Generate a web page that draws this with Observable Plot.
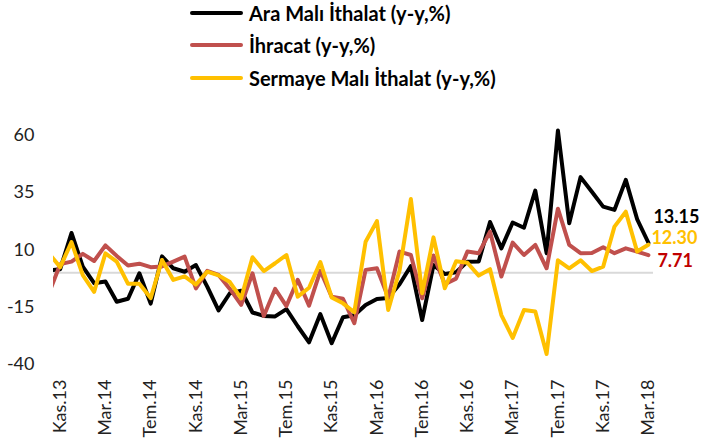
<!DOCTYPE html>
<html><head><meta charset="utf-8">
<script src="https://cdn.jsdelivr.net/npm/d3@7"></script>
<script src="https://cdn.jsdelivr.net/npm/@observablehq/plot@0.6"></script>
<style>
body{margin:0;background:#fff;font-family:Lato,sans-serif;}
#legend{position:relative;height:100px;width:705px;}
.item{position:absolute;left:190px;height:22px;display:flex;align-items:center;font-weight:bold;font-size:20px;color:#000;white-space:nowrap;}
.sw{width:53px;height:4px;margin-right:6px;border-radius:2px;}
#chart svg{display:block;}
</style></head><body>
<div id="legend"></div>
<div id="chart"></div>
<script>
const months = ["Eki.13","Kas.13","Ara.13",
"Oca.14","Şub.14","Mar.14","Nis.14","May.14","Haz.14","Tem.14","Ağu.14","Eyl.14","Eki.14","Kas.14","Ara.14",
"Oca.15","Şub.15","Mar.15","Nis.15","May.15","Haz.15","Tem.15","Ağu.15","Eyl.15","Eki.15","Kas.15","Ara.15",
"Oca.16","Şub.16","Mar.16","Nis.16","May.16","Haz.16","Tem.16","Ağu.16","Eyl.16","Eki.16","Kas.16","Ara.16",
"Oca.17","Şub.17","Mar.17","Nis.17","May.17","Haz.17","Tem.17","Ağu.17","Eyl.17","Eki.17","Kas.17","Ara.17",
"Oca.18","Şub.18","Mar.18"];
const tickMonths = ["Kas.13","Mar.14","Tem.14","Kas.14","Mar.15","Tem.15","Kas.15","Mar.16","Tem.16","Kas.16","Mar.17","Tem.17","Kas.17","Mar.18"];
const yTicks = [-40, -15, 10, 35, 60];
const seriesNames = ["Ara Malı İthalat (y-y,%)", "İhracat (y-y,%)", "Sermaye Malı İthalat (y-y,%)"];
const seriesColors = ["#000000", "#C0504D", "#FFC000"];
const labelColors = ["#000000", "#C00000", "#FFC000"];
const araMali = [1.0,1.6,17.4,2.7,-4.5,-3.8,-12.6,-11.3,-0.2,-13.4,7.2,2,0.5,3.4,-6,-16.4,-8.9,-7.8,-17.3,-18.8,-19,-15.8,-23.3,-30.3,-18,-30.7,-19.4,-18.5,-14,-11.4,-11,-5,3,-20.6,3.4,-0.5,0.3,4.9,5,22.2,10.7,22,19.7,35.9,8.6,62.1,21.7,41.8,35.4,28.9,27.5,40.6,23.5,13.15];
const ihracat = [-9,3.8,4.9,8.3,5.2,12,7.4,3.2,4,2.5,2.8,4.9,7.1,-6.8,0.9,-0.9,-7,-14,-0.2,-18.8,-7,-14.5,-3,-14.3,0.9,-10.4,-11.3,-22,1.3,2,-10.8,9.3,7.8,-11.1,7.6,-4.9,-2.5,9.3,8.6,18,-1.6,13.2,7.8,12.2,2,28,12.2,8.6,8.7,11.2,8.6,10.7,9.3,7.71];
const sermaye = [8.5,2.5,13.4,-1,-8.3,8.5,4.9,-4.8,-4.8,-11,5.6,-3.1,-1.5,-5.1,0.5,-1.1,-4,-11.1,6.8,0.8,4.2,7.8,-10.4,-6.5,4.7,-10.7,-13.3,-17.2,13.6,22.6,-16.2,1,32.2,-8.9,15.5,-6.7,5.1,4.4,-1.2,1.6,-18.4,-28.4,-16.2,-16.9,-35.4,5.5,2,5.5,0.8,2.7,20.2,26.7,9.3,12.3];

// legend
const legend = document.getElementById("legend");
const rowTops = [2, 34, 67];
seriesNames.forEach((name, k) => {
  const it = document.createElement("div");
  it.className = "item";
  it.style.top = rowTops[k] + "px";
  const sw = document.createElement("span");
  sw.className = "sw";
  sw.style.background = seriesColors[k];
  it.appendChild(sw);
  it.appendChild(document.createTextNode(name));
  legend.appendChild(it);
});

const tickIdx = tickMonths.map(m => months.indexOf(m));
const last = months.length - 1;
const data = [araMali, ihracat, sermaye];

const chart = Plot.plot({
  width: 705,
  height: 348,
  marginLeft: 53,
  marginRight: 52,
  marginTop: 12,
  marginBottom: 84,
  style: {fontFamily: "Lato, sans-serif", fontSize: "18px", color: "#222", background: "#fff"},
  x: {domain: [0.41, 53.45], ticks: tickIdx, tickFormat: i => months[i], tickRotate: -90, tickSize: 0, tickPadding: 15, label: null},
  y: {domain: [-40, 70], ticks: yTicks, tickSize: 0, tickPadding: 19, label: null, tickFormat: d => d},
  marks: [
    Plot.ruleY([0], {stroke: "#d9d9d9", strokeWidth: 2}),
    ...data.map((arr, k) => Plot.lineY(arr, {x: (d, i) => i, y: d => d, stroke: seriesColors[k], strokeWidth: 4, clip: true})),
    Plot.text([araMali[last]], {x: last, y: d => d, text: d => d.toFixed(2), fill: labelColors[0], textAnchor: "start", dx: 5, dy: -26, fontWeight: "bold", fontSize: 18}),
    Plot.text([sermaye[last]], {x: last, y: d => d, text: d => d.toFixed(2), fill: labelColors[2], textAnchor: "start", dx: 3, dy: -6, fontWeight: "bold", fontSize: 18}),
    Plot.text([ihracat[last]], {x: last, y: d => d, text: d => d.toFixed(2), fill: labelColors[1], textAnchor: "start", dx: 9, dy: 6, fontWeight: "bold", fontSize: 18})
  ]
});
document.getElementById("chart").appendChild(chart);
</script>
</body></html>
